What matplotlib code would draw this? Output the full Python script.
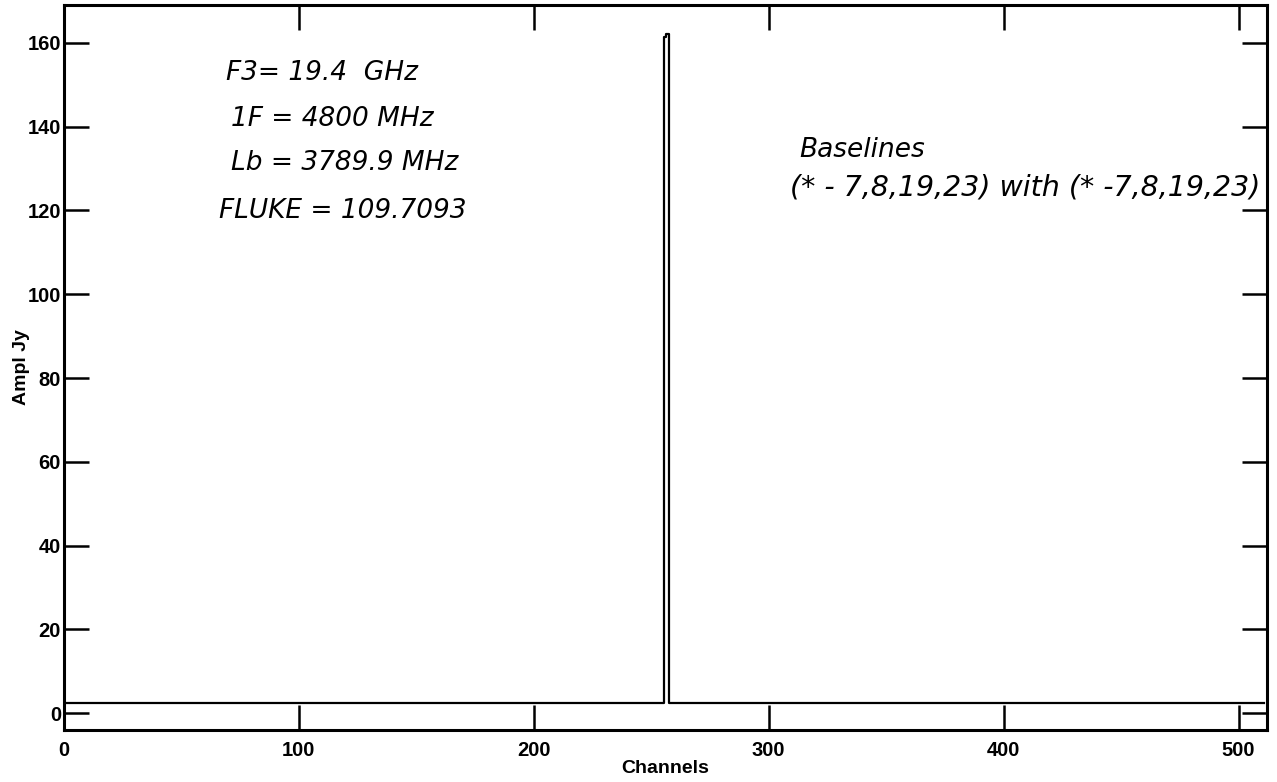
import numpy as np
import matplotlib.pyplot as plt

# spectrum: flat baseline with a single strong line near the band centre
n_channels = 512
baseline_level = 2.4
spike_channels = [256, 257]
spike_values = [161.5, 162.0]

x_ticks = [0, 100, 200, 300, 400, 500]
y_ticks = [0, 20, 40, 60, 80, 100, 120, 140, 160]

notes_left = ["F3= 19.4  GHz", "1F = 4800 MHz", "Lb = 3789.9 MHz", "FLUKE = 109.7093"]
notes_left_pos = [(69, 152.9), (71, 141.9), (71, 131.2), (66, 119.9)]
notes_right = ["Baselines", "(* - 7,8,19,23) with (* -7,8,19,23)"]
notes_right_pos = [(313, 134.3), (309, 125.4)]

channels = np.arange(n_channels)
ampl = np.full(n_channels, baseline_level)
ampl[spike_channels] = spike_values

plt.rcParams["font.family"] = ["Liberation Sans", "DejaVu Sans"]

fig = plt.figure(figsize=(12.77, 7.82), dpi=100)
ax = fig.add_axes([0.050, 0.0665, 0.942, 0.927])

ax.plot(channels, ampl, color="black", linewidth=1.6, drawstyle="steps-mid")

ax.set_xlim(0, 512)
ax.set_ylim(-4, 169)
ax.set_xticks(x_ticks)
ax.set_yticks(y_ticks)
ax.tick_params(direction="in", length=18, width=1.8, top=True, right=True,
               labelsize=14.5, colors="black")
ax.tick_params(axis="x", pad=8)
ax.tick_params(axis="y", pad=2)
for lab in ax.get_xticklabels() + ax.get_yticklabels():
    lab.set_fontweight("bold")
for sp in ax.spines.values():
    sp.set_linewidth(2.2)

ax.set_xlabel("Channels", fontsize=14, fontweight="bold", labelpad=0)
ax.set_ylabel("Ampl Jy", fontsize=14, fontweight="bold", labelpad=-2)

for txt, (tx, ty) in zip(notes_left, notes_left_pos):
    ax.text(tx, ty, txt, fontsize=19, style="italic", family="DejaVu Sans",
            ha="left", va="center")
ax.text(*notes_right_pos[0], notes_right[0], fontsize=19, style="italic",
        family="DejaVu Sans", ha="left", va="center")
ax.text(*notes_right_pos[1], notes_right[1], fontsize=20.5, style="italic",
        family="DejaVu Sans", ha="left", va="center")

fig.savefig("out.png", dpi=100)
